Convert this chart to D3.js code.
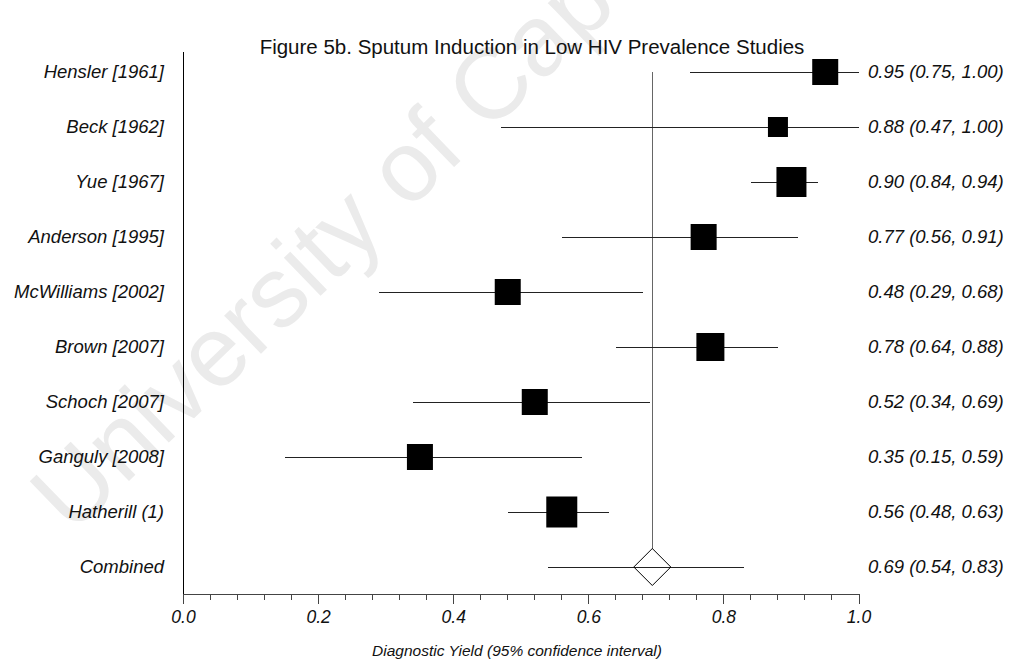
<!DOCTYPE html>
<html>
<head>
<meta charset="utf-8">
<script src="https://cdn.jsdelivr.net/npm/d3@7"></script>
<style>
  html, body { margin: 0; padding: 0; background: #fff; }
  svg { display: block; font-family: "Liberation Sans", Arial, sans-serif; }
  line { shape-rendering: crispEdges; }
</style>
</head>
<body>
<svg id="chart" width="1014" height="661"></svg>
<script>
// Study-level diagnostic yield estimates with 95% confidence intervals
const studies   = ["Hensler [1961]", "Beck [1962]", "Yue [1967]", "Anderson [1995]", "McWilliams [2002]",
                   "Brown [2007]", "Schoch [2007]", "Ganguly [2008]", "Hatherill (1)"];
const estimates = [0.95, 0.88, 0.90, 0.77, 0.48, 0.78, 0.52, 0.35, 0.56];
const lower     = [0.75, 0.47, 0.84, 0.56, 0.29, 0.64, 0.34, 0.15, 0.48];
const upper     = [1.00, 1.00, 0.94, 0.91, 0.68, 0.88, 0.69, 0.59, 0.63];
const weights   = [26, 20, 30, 26, 26, 28, 26, 26, 31];

// Pooled estimate
const pooledLabel = "Combined";
const pooled      = [0.694, 0.54, 0.83]; // estimate, lower, upper

const xTicks = [0.0, 0.2, 0.4, 0.6, 0.8, 1.0];
const titleText = "Figure 5b. Sputum Induction in Low HIV Prevalence Studies";
const xTitle = "Diagnostic Yield (95% confidence interval)";

const svg = d3.select("#chart");

const x = d3.scaleLinear().domain([0, 1]).range([183.5, 859]);
const rows = studies.concat([pooledLabel]);
const y = d3.scalePoint().domain(rows).range([72, 567]);
const size = d3.scaleLinear().domain([0, 31]).range([0, 31]);
const fmt = v => v.toFixed(2);
const axisY = 594;

// faint background watermark
svg.append("text")
  .attr("transform", "translate(72,536) rotate(-44)")
  .attr("font-size", 100)
  .attr("fill", "#ebebeb")
  .text("University of Cape Town");

// title
svg.append("text")
  .attr("x", 532).attr("y", 54)
  .attr("text-anchor", "middle")
  .attr("font-size", 20.5)
  .attr("fill", "#111")
  .text(titleText);

// left axis line
svg.append("line")
  .attr("x1", x(0)).attr("x2", x(0))
  .attr("y1", 52).attr("y2", axisY)
  .attr("stroke", "#000").attr("stroke-width", 1);

// bottom axis with minor ticks
const minor = d3.range(0, 1.0001, 0.04);
const gx = svg.append("g").attr("transform", `translate(0,${axisY})`);
gx.append("line").attr("x1", x(0)).attr("x2", x(1)).attr("stroke", "#444");
gx.selectAll("line.minor").data(minor).join("line")
  .attr("class", "minor")
  .attr("x1", d => x(d)).attr("x2", d => x(d))
  .attr("y1", 0).attr("y2", 6).attr("stroke", "#444");
gx.selectAll("line.major").data(xTicks).join("line")
  .attr("class", "major")
  .attr("x1", d => x(d)).attr("x2", d => x(d))
  .attr("y1", 0).attr("y2", 10).attr("stroke", "#444");
gx.selectAll("text").data(xTicks).join("text")
  .attr("x", d => x(d)).attr("y", 29)
  .attr("text-anchor", "middle")
  .attr("font-size", 17.5).attr("font-style", "italic").attr("fill", "#111")
  .text(d => d.toFixed(1));

svg.append("text")
  .attr("x", 517).attr("y", 656)
  .attr("text-anchor", "middle")
  .attr("font-size", 15.5).attr("font-style", "italic").attr("fill", "#111")
  .text(xTitle);

// reference line at pooled estimate
svg.append("line")
  .attr("x1", x(pooled[0])).attr("x2", x(pooled[0]))
  .attr("y1", y(studies[0])).attr("y2", y(pooledLabel) - 18.5)
  .attr("stroke", "#666").attr("stroke-width", 1);

// study rows
const g = svg.append("g");
studies.forEach((s, i) => {
  const cy = y(s);
  g.append("line")
    .attr("x1", x(lower[i])).attr("x2", x(upper[i]))
    .attr("y1", cy).attr("y2", cy)
    .attr("stroke", "#222").attr("stroke-width", 1);
  const sz = size(weights[i]);
  g.append("rect")
    .attr("x", x(estimates[i]) - sz / 2).attr("y", cy - sz / 2)
    .attr("width", sz).attr("height", sz)
    .attr("fill", "#000");
});

// pooled row: CI line and open diamond
{
  const cy = y(pooledLabel), cx = x(pooled[0]), hw = 18.5;
  g.append("line")
    .attr("x1", x(pooled[1])).attr("x2", x(pooled[2]))
    .attr("y1", cy).attr("y2", cy)
    .attr("stroke", "#222");
  g.append("path")
    .attr("d", `M${cx - hw},${cy} L${cx},${cy - hw} L${cx + hw},${cy} L${cx},${cy + hw} Z`)
    .attr("fill", "none").attr("stroke", "#000");
}

// row labels on the left
svg.selectAll("text.rowlab").data(rows).join("text")
  .attr("class", "rowlab")
  .attr("x", 164).attr("y", d => y(d))
  .attr("dy", "0.35em")
  .attr("text-anchor", "end")
  .attr("font-size", 18.5).attr("font-style", "italic").attr("fill", "#111")
  .text(d => d);

// estimate text on the right
const estText = estimates.map((e, i) => `${fmt(e)} (${fmt(lower[i])}, ${fmt(upper[i])})`)
  .concat([`${fmt(pooled[0])} (${fmt(pooled[1])}, ${fmt(pooled[2])})`]);
svg.selectAll("text.est").data(rows).join("text")
  .attr("class", "est")
  .attr("x", 868).attr("y", d => y(d))
  .attr("dy", "0.35em")
  .attr("font-size", 18.5).attr("font-style", "italic").attr("fill", "#111")
  .text((d, i) => estText[i]);
</script>
</body>
</html>
